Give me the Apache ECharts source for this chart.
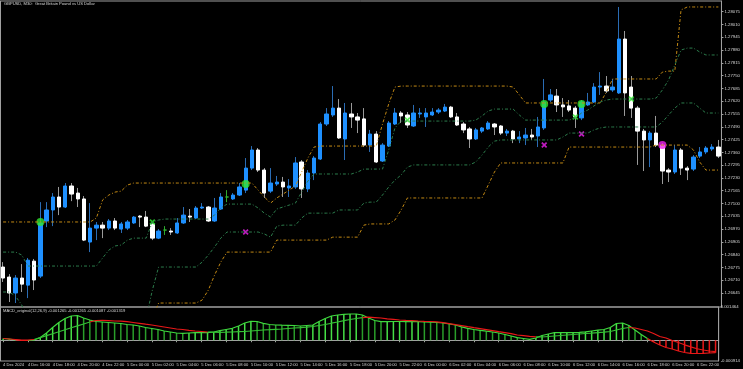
<!DOCTYPE html>
<html><head><meta charset="utf-8">
<script src="https://cdn.jsdelivr.net/npm/echarts@6/dist/echarts.min.js"></script>
<style>html,body{margin:0;padding:0;background:#000;}#c{width:743px;height:369px;}</style>
</head><body><div id="c"></div>
<script>
const chartTitle = 'GBPUSD, M30:  Great Britain Pound vs US Dollar';
const macdTitle = 'MACD_original(12,26,9) -0.001265 -0.001265 -0.001087 -0.001319';
const firstLabel = '4 Dec 2024';
const startDay = 4, startMinutes = 14 * 60, barMinutes = 30, barCount = 116;
const categories = [];
for (let i = 0; i < barCount; i++) {
  const t = startMinutes + i * barMinutes;
  const d = startDay + Math.floor(t / 1440), m = t % 1440;
  categories.push(d + ' Dec ' + String(Math.floor(m / 60)).padStart(2, '0') + ':' + String(m % 60).padStart(2, '0'));
}
const priceTicks = [1.26645,1.26710,1.26775,1.26840,1.26905,1.26970,1.27035,1.27100,1.27165,1.27230,1.27295,1.27360,1.27425,1.27490,1.27555,1.27620,1.27685,1.27750,1.27815,1.27880,1.27945,1.28010,1.28075];
const macdTicks = [-0.000914, 0.001464];

// [open, close, low, high]
const ohlc = [
[1.26777,1.26721,1.26701,1.26802],[1.26726,1.26645,1.26599,1.26741],[1.26645,1.26721,1.26594,1.26736],[1.26721,1.26690,1.26650,1.26792],
[1.26685,1.26812,1.26619,1.26823],[1.26807,1.26711,1.26660,1.26818],[1.26731,1.27001,1.26721,1.27107],[1.27011,1.27067,1.26980,1.27107],
[1.27067,1.27133,1.26985,1.27153],[1.27133,1.27082,1.27041,1.27184],[1.27082,1.27189,1.27077,1.27204],[1.27189,1.27148,1.27112,1.27204],
[1.27153,1.27123,1.27082,1.27179],[1.27123,1.26914,1.26909,1.27138],[1.26904,1.26975,1.26853,1.27102],[1.26975,1.26990,1.26914,1.27006],
[1.26990,1.26975,1.26924,1.27006],[1.26975,1.27011,1.26965,1.27021],[1.27011,1.26975,1.26965,1.27026],[1.26970,1.26996,1.26950,1.27006],
[1.26975,1.27006,1.26965,1.27016],[1.27001,1.27031,1.26996,1.27036],[1.27036,1.27031,1.26980,1.27041],[1.27031,1.26985,1.26980,1.27062],
[1.26996,1.26924,1.26914,1.27006],[1.26924,1.26960,1.26919,1.26970],[1.26965,1.26965,1.26940,1.26985],[1.26960,1.26955,1.26940,1.26975],
[1.26950,1.27001,1.26945,1.27026],[1.27001,1.27041,1.26996,1.27082],[1.27036,1.27031,1.27006,1.27072],[1.27026,1.27077,1.27021,1.27087],
[1.27077,1.27082,1.27072,1.27102],[1.27082,1.27011,1.27006,1.27087],[1.27011,1.27077,1.27006,1.27128],[1.27072,1.27133,1.27067,1.27153],
[1.27133,1.27133,1.27107,1.27168],[1.27123,1.27143,1.27118,1.27153],[1.27143,1.27184,1.27138,1.27204],[1.27168,1.27280,1.27153,1.27331],
[1.27280,1.27372,1.27270,1.27392],[1.27372,1.27270,1.27260,1.27382],[1.27270,1.27153,1.27128,1.27280],[1.27163,1.27204,1.27153,1.27280],
[1.27199,1.27209,1.27189,1.27240],[1.27209,1.27184,1.27133,1.27235],[1.27179,1.27189,1.27133,1.27224],[1.27184,1.27306,1.27174,1.27336],
[1.27311,1.27174,1.27128,1.27321],[1.27174,1.27255,1.27158,1.27270],[1.27255,1.27331,1.27219,1.27341],[1.27326,1.27504,1.27321,1.27514],
[1.27504,1.27555,1.27494,1.27585],[1.27550,1.27585,1.27540,1.27697],[1.27585,1.27433,1.27428,1.27631],[1.27428,1.27560,1.27321,1.27611],
[1.27555,1.27540,1.27484,1.27611],[1.27540,1.27524,1.27458,1.27560],[1.27530,1.27397,1.27387,1.27585],[1.27397,1.27453,1.27362,1.27474],
[1.27453,1.27311,1.27306,1.27468],[1.27316,1.27397,1.27311,1.27407],[1.27392,1.27509,1.27387,1.27519],[1.27504,1.27560,1.27499,1.27585],
[1.27560,1.27545,1.27509,1.27570],[1.27550,1.27499,1.27484,1.27565],[1.27494,1.27560,1.27489,1.27601],[1.27555,1.27560,1.27535,1.27585],
[1.27540,1.27560,1.27489,1.27585],[1.27550,1.27565,1.27545,1.27585],[1.27565,1.27575,1.27555,1.27585],[1.27570,1.27590,1.27565,1.27606],
[1.27590,1.27540,1.27535,1.27596],[1.27540,1.27499,1.27494,1.27560],[1.27504,1.27474,1.27458,1.27514],[1.27479,1.27428,1.27382,1.27489],
[1.27428,1.27474,1.27423,1.27484],[1.27468,1.27484,1.27458,1.27489],[1.27479,1.27509,1.27474,1.27519],[1.27504,1.27489,1.27448,1.27509],
[1.27494,1.27458,1.27448,1.27499],[1.27458,1.27468,1.27443,1.27479],[1.27468,1.27428,1.27407,1.27474],[1.27428,1.27438,1.27407,1.27468],
[1.27433,1.27448,1.27397,1.27484],[1.27448,1.27438,1.27423,1.27479],[1.27443,1.27489,1.27387,1.27540],[1.27484,1.27616,1.27474,1.27733],
[1.27626,1.27652,1.27616,1.27682],[1.27646,1.27601,1.27565,1.27682],[1.27601,1.27591,1.27540,1.27636],[1.27596,1.27575,1.27565,1.27626],
[1.27585,1.27540,1.27484,1.27596],[1.27535,1.27616,1.27524,1.27626],[1.27601,1.27616,1.27596,1.27662],[1.27616,1.27692,1.27611,1.27712],
[1.27692,1.27697,1.27652,1.27768],[1.27697,1.27672,1.27662,1.27748],[1.27677,1.27692,1.27667,1.27733],[1.27662,1.27936,1.27657,1.28099],
[1.27936,1.27662,1.27545,1.27977],[1.27692,1.27585,1.27535,1.27748],[1.27585,1.27468,1.27296,1.27596],[1.27468,1.27423,1.27265,1.27479],
[1.27423,1.27458,1.27285,1.27468],[1.27458,1.27397,1.27387,1.27545],[1.27397,1.27265,1.27199,1.27407],[1.27270,1.27260,1.27209,1.27280],
[1.27260,1.27372,1.27250,1.27397],[1.27372,1.27280,1.27245,1.27382],[1.27280,1.27270,1.27219,1.27290],[1.27275,1.27336,1.27265,1.27346],
[1.27341,1.27362,1.27331,1.27387],[1.27362,1.27382,1.27351,1.27392],[1.27377,1.27387,1.27367,1.27402],[1.27387,1.27341,1.27331,1.27423]
];

const upperOrange = [
1.27006,1.27006,1.27006,1.27006,1.27006,1.27006,1.27006,1.27006,1.27006,1.27006,
1.27006,1.27006,1.27006,1.27006,1.27006,1.27026,1.27118,1.27143,1.27158,1.27163,
1.27194,1.27204,1.27204,1.27204,1.27204,1.27204,1.27204,1.27204,1.27204,1.27204,
1.27204,1.27204,1.27204,1.27204,1.27204,1.27204,1.27204,1.27204,1.27204,1.27204,
1.27204,1.27168,1.27133,1.27102,1.27128,1.27148,1.27168,1.27189,1.27260,1.27331,
1.27387,1.27392,1.27392,1.27392,1.27392,1.27392,1.27392,1.27392,1.27392,1.27392,
1.27392,1.27504,1.27606,1.27692,1.27697,1.27697,1.27697,1.27697,1.27697,1.27697,
1.27697,1.27697,1.27697,1.27697,1.27697,1.27697,1.27697,1.27697,1.27697,1.27697,
1.27697,1.27697,1.27692,1.27652,1.27611,1.27611,1.27611,1.27611,1.27611,1.27611,
1.27611,1.27611,1.27611,1.27611,1.27611,1.27611,1.27611,1.27667,1.27733,1.27733,
1.27733,1.27733,1.27733,1.27733,1.27733,1.27733,1.27768,1.27773,1.27773,1.28084,
1.28099,1.28099,1.28099,1.28099,1.28099,1.28099];
const upperGreen = [
1.26853,1.26853,1.26853,1.26838,1.26782,1.26782,1.26782,1.26782,1.26782,1.26782,
1.26782,1.26782,1.26782,1.26782,1.26782,1.26782,1.26823,1.26863,1.26884,1.26889,
1.26914,1.26924,1.26924,1.26924,1.27006,1.27016,1.27021,1.27021,1.27021,1.27021,
1.27021,1.27021,1.27021,1.27021,1.27041,1.27077,1.27097,1.27097,1.27097,1.27097,
1.27097,1.27077,1.27051,1.27031,1.27072,1.27082,1.27092,1.27102,1.27158,1.27214,
1.27250,1.27250,1.27250,1.27250,1.27250,1.27250,1.27250,1.27260,1.27275,1.27275,
1.27275,1.27275,1.27372,1.27484,1.27519,1.27519,1.27519,1.27519,1.27519,1.27519,
1.27519,1.27519,1.27519,1.27519,1.27519,1.27519,1.27524,1.27545,1.27570,1.27580,
1.27580,1.27580,1.27580,1.27550,1.27524,1.27524,1.27524,1.27524,1.27524,1.27524,
1.27524,1.27524,1.27535,1.27560,1.27575,1.27596,1.27616,1.27626,1.27631,1.27631,
1.27631,1.27631,1.27631,1.27631,1.27631,1.27636,1.27677,1.27728,1.27804,1.27880,
1.27890,1.27890,1.27870,1.27855,1.27855,1.27855];
const lowerGreen = [
1.26650,1.26650,1.26629,1.26584,1.26500,1.26500,1.26500,1.26500,1.26500,1.26500,
1.26500,1.26500,1.26500,1.26500,1.26500,1.26500,1.26500,1.26500,1.26500,1.26500,
1.26500,1.26500,1.26500,1.26518,1.26660,1.26777,1.26777,1.26777,1.26777,1.26777,
1.26777,1.26777,1.26802,1.26838,1.26879,1.26924,1.26955,1.26955,1.26955,1.26955,
1.26955,1.26955,1.26945,1.26929,1.26985,1.26990,1.26990,1.26990,1.27026,1.27051,
1.27051,1.27051,1.27051,1.27051,1.27067,1.27067,1.27067,1.27067,1.27102,1.27107,
1.27107,1.27143,1.27184,1.27219,1.27245,1.27285,1.27296,1.27296,1.27296,1.27296,
1.27296,1.27296,1.27296,1.27296,1.27296,1.27296,1.27311,1.27346,1.27387,1.27417,
1.27423,1.27423,1.27423,1.27423,1.27423,1.27423,1.27423,1.27423,1.27423,1.27423,
1.27438,1.27458,1.27458,1.27458,1.27458,1.27474,1.27484,1.27489,1.27489,1.27489,
1.27489,1.27489,1.27489,1.27489,1.27489,1.27489,1.27514,1.27550,1.27585,1.27611,
1.27611,1.27611,1.27585,1.27560,1.27560,1.27560];
const lowerOrange = [
1.26450,1.26450,1.26450,1.26450,1.26450,1.26450,1.26450,1.26450,1.26450,1.26450,
1.26450,1.26450,1.26450,1.26450,1.26450,1.26450,1.26450,1.26450,1.26450,1.26450,
1.26450,1.26450,1.26450,1.26450,1.26518,1.26594,1.26594,1.26594,1.26594,1.26594,
1.26594,1.26594,1.26609,1.26660,1.26736,1.26802,1.26853,1.26853,1.26853,1.26853,
1.26853,1.26853,1.26853,1.26853,1.26914,1.26914,1.26914,1.26914,1.26914,1.26914,
1.26914,1.26914,1.26914,1.26929,1.26929,1.26929,1.26929,1.26929,1.26990,1.26996,
1.26996,1.26996,1.26996,1.27016,1.27067,1.27128,1.27128,1.27128,1.27128,1.27128,
1.27128,1.27128,1.27128,1.27128,1.27128,1.27128,1.27128,1.27128,1.27194,1.27260,
1.27306,1.27306,1.27306,1.27306,1.27306,1.27306,1.27306,1.27306,1.27306,1.27306,
1.27306,1.27387,1.27387,1.27387,1.27387,1.27387,1.27387,1.27387,1.27387,1.27387,
1.27387,1.27387,1.27387,1.27387,1.27387,1.27397,1.27397,1.27397,1.27397,1.27397,
1.27397,1.27372,1.27311,1.27270,1.27270,1.27270];

const buySignals = [[6,1.27006],[39,1.27199],[87,1.27606],[93,1.27606]];
const sellSignals = [[106,1.27397]];
const buyStops = [[24,1.27006],[65,1.27524],[92,1.27540],[101,1.27631]];
const sellStops = [[39,1.26955],[87,1.27397],[93,1.27453]];

const macdMain = [
0.000077,0.000055,0.000011,-0.000011,-0.000011,0.000011,0.000121,0.000319,0.000561,0.000781,
0.000957,0.001068,0.001090,0.000979,0.000891,0.000825,0.000803,0.000781,0.000759,0.000737,
0.000693,0.000671,0.000627,0.000561,0.000517,0.000473,0.000407,0.000363,0.000319,0.000306,
0.000319,0.000332,0.000332,0.000332,0.000363,0.000420,0.000473,0.000526,0.000627,0.000759,
0.000834,0.000825,0.000746,0.000693,0.000671,0.000662,0.000658,0.000649,0.000627,0.000649,
0.000671,0.000825,0.000957,0.001068,0.001112,0.001142,0.001156,0.001156,0.001112,0.000979,
0.000869,0.000817,0.000817,0.000825,0.000825,0.000817,0.000817,0.000817,0.000803,0.000794,
0.000781,0.000759,0.000724,0.000671,0.000592,0.000526,0.000473,0.000438,0.000398,0.000363,
0.000319,0.000253,0.000187,0.000112,0.000077,0.000041,0.000099,0.000209,0.000275,0.000332,
0.000332,0.000332,0.000332,0.000350,0.000372,0.000407,0.000442,0.000473,0.000561,0.000737,
0.000759,0.000649,0.000451,0.000253,0.000077,-0.000078,-0.000210,-0.000320,-0.000386,-0.000474,
-0.000540,-0.000575,-0.000584,-0.000575,-0.000562,-0.000549];
const macdSignal = [
0.000077,0.000055,0.000033,0.000011,0.000011,0.000033,0.000116,0.000204,0.000288,0.000372,
0.000460,0.000548,0.000632,0.000715,0.000803,0.000869,0.000874,0.000865,0.000847,0.000839,
0.000817,0.000781,0.000746,0.000706,0.000671,0.000627,0.000583,0.000539,0.000495,0.000473,
0.000438,0.000407,0.000385,0.000363,0.000354,0.000350,0.000354,0.000363,0.000376,0.000385,
0.000407,0.000429,0.000451,0.000464,0.000482,0.000495,0.000517,0.000539,0.000552,0.000574,
0.000605,0.000649,0.000693,0.000750,0.000803,0.000861,0.000913,0.000957,0.000993,0.001015,
0.000997,0.000979,0.000944,0.000918,0.000891,0.000874,0.000861,0.000847,0.000834,0.000825,
0.000812,0.000772,0.000728,0.000684,0.000645,0.000596,0.000552,0.000513,0.000469,0.000425,
0.000376,0.000332,0.000288,0.000231,0.000200,0.000169,0.000151,0.000143,0.000165,0.000187,
0.000209,0.000231,0.000253,0.000275,0.000297,0.000310,0.000332,0.000354,0.000385,0.000451,
0.000517,0.000561,0.000539,0.000473,0.000407,0.000297,0.000165,0.000099,-0.000011,-0.000100,
-0.000201,-0.000289,-0.000373,-0.000430,-0.000474,-0.000505];

// ---- derived views ----
const bodies = ohlc.map(r => [r[0], r[1], Math.min(r[0], r[1]), Math.max(r[0], r[1])]);
function splitBy(values, flags) {
  const a = values.map(() => null), b = values.map(() => null);
  for (let i = 0; i < values.length; i++) {
    if (flags[i]) { a[i] = values[i]; if (i > 0 && !flags[i - 1]) a[i - 1] = values[i - 1]; }
    else { b[i] = values[i]; if (i > 0 && flags[i - 1]) b[i - 1] = values[i - 1]; }
  }
  return [a, b];
}
const [mainPos, mainNeg] = splitBy(macdMain, macdMain.map(v => v >= 0));
const [sigBelow, sigAbove] = splitBy(macdSignal, macdSignal.map((v, i) => macdMain[i] > v));

const FONT = 'Liberation Sans';
const AX = '#a0a0a0';
const TXT = '#d6d6d6';
const BLUE = '#1e90ff';
const GREEN_MK = '#2ee62e';
const MAGENTA = '#f020f0';
const XPATH = 'path://M0,2L2,0L5,3L8,0L10,2L7,5L10,8L8,10L5,7L2,10L0,8L3,5Z';
const bandStyle = c => ({ color: c, width: 1, type: [3, 2, 1, 2] });

const chart = echarts.init(document.getElementById('c'), null, { renderer: 'canvas' });
chart.setOption({
  backgroundColor: '#000000',
  animation: false,
  grid: [
    { left: -2.1, right: 20.7, top: 1, height: 306, show: true, borderColor: AX, borderWidth: 1 },
    { left: -2.1, right: 20.7, top: 307, height: 54, show: true, borderColor: AX, borderWidth: 1 }
  ],
  xAxis: [
    { type: 'category', gridIndex: 0, data: categories, boundaryGap: true,
      axisLine: { show: false }, axisTick: { show: false }, axisLabel: { show: false }, splitLine: { show: false } },
    { type: 'category', gridIndex: 1, data: categories, boundaryGap: true,
      axisLine: { show: true, lineStyle: { color: AX } },
      axisTick: { show: true, interval: 3, alignWithLabel: true, length: 2, lineStyle: { color: AX } },
      axisLabel: { show: true, interval: 3, align: 'left', margin: 2, fontSize: 4.1, color: TXT, fontFamily: FONT,
        formatter: (v, i) => i === 0 ? firstLabel : v },
      splitLine: { show: false } }
  ],
  yAxis: [
    { type: 'value', gridIndex: 0, position: 'right', min: 1.265738, max: 1.281294, scale: true,
      axisLine: { show: true, lineStyle: { color: AX } },
      axisTick: { show: true, customValues: priceTicks, length: 2, lineStyle: { color: AX } },
      axisLabel: { show: true, customValues: priceTicks, formatter: v => v.toFixed(5), fontSize: 4.3, color: TXT, margin: 3, fontFamily: FONT },
      splitLine: { show: false } },
    { type: 'value', gridIndex: 1, position: 'right', min: macdTicks[0], max: macdTicks[1], scale: true,
      axisLine: { show: true, lineStyle: { color: AX } },
      axisTick: { show: false },
      axisLabel: { show: true, customValues: macdTicks, formatter: v => v.toFixed(6), fontSize: 4.3, color: TXT, margin: 2, fontFamily: FONT },
      splitLine: { show: false } }
  ],
  series: [
    { type: 'candlestick', name: 'wicks', xAxisIndex: 0, yAxisIndex: 0, data: ohlc, barWidth: 0.1, silent: true,
      itemStyle: { color: '#2a6cb4', color0: '#9a9a9a', borderColor: '#2a6cb4', borderColor0: '#9a9a9a', borderColorDoji: '#2fa82f', borderWidth: 1 } },
    { type: 'candlestick', name: 'bodies', xAxisIndex: 0, yAxisIndex: 0, data: bodies, barWidth: 3.8, silent: true,
      itemStyle: { color: BLUE, color0: '#ffffff', borderColor: BLUE, borderColor0: '#ffffff', borderColorDoji: '#2fb52f', borderWidth: 1 } },
    { type: 'line', name: 'upperOrange', data: upperOrange, symbol: 'none', lineStyle: bandStyle('#c48a14'), silent: true },
    { type: 'line', name: 'upperGreen', data: upperGreen, symbol: 'none', lineStyle: bandStyle('#2c7d4c'), silent: true },
    { type: 'line', name: 'lowerGreen', data: lowerGreen, symbol: 'none', lineStyle: bandStyle('#2c7d4c'), silent: true },
    { type: 'line', name: 'lowerOrange', data: lowerOrange, symbol: 'none', lineStyle: bandStyle('#c48a14'), silent: true },
    { type: 'scatter', name: 'buy', data: buySignals, symbol: 'circle', symbolSize: 8, itemStyle: { color: GREEN_MK }, silent: true },
    { type: 'scatter', name: 'sell', data: sellSignals, symbol: 'circle', symbolSize: 8, itemStyle: { color: MAGENTA }, silent: true },
    { type: 'scatter', name: 'buyStop', data: buyStops, symbol: XPATH, symbolSize: 6, itemStyle: { color: GREEN_MK }, silent: true },
    { type: 'scatter', name: 'sellStop', data: sellStops, symbol: XPATH, symbolSize: 6, itemStyle: { color: MAGENTA }, silent: true },
    { type: 'bar', name: 'hist', xAxisIndex: 1, yAxisIndex: 1, data: macdMain, barWidth: 1.5, silent: true,
      itemStyle: { color: p => {
        const i = p.dataIndex, v = macdMain[i];
        if (v < 0) return '#e81818';
        return (i === 0 || v >= macdMain[i - 1]) ? '#46e046' : '#2a9e2a';
      } } },
    { type: 'line', name: 'mainPos', xAxisIndex: 1, yAxisIndex: 1, data: mainPos, symbol: 'none', lineStyle: { color: '#3ed83e', width: 1.2 }, silent: true },
    { type: 'line', name: 'mainNeg', xAxisIndex: 1, yAxisIndex: 1, data: mainNeg, symbol: 'none', lineStyle: { color: '#e81818', width: 1.2 }, silent: true },
    { type: 'line', name: 'sigBelow', xAxisIndex: 1, yAxisIndex: 1, data: sigBelow, symbol: 'none', lineStyle: { color: '#34c034', width: 1.2 }, silent: true },
    { type: 'line', name: 'sigAbove', xAxisIndex: 1, yAxisIndex: 1, data: sigAbove, symbol: 'none', lineStyle: { color: '#e81818', width: 1.2 }, silent: true }
  ],
  graphic: [
    { type: 'text', x: 4, y: 4, style: { text: chartTitle, fill: TXT, fontSize: 4.1, fontFamily: FONT, verticalAlign: 'middle' } },
    { type: 'text', x: 3, y: 311, style: { text: macdTitle, fill: TXT, fontSize: 4.1, fontFamily: FONT, verticalAlign: 'middle' } },
    { type: 'line', shape: { x1: 0.5, y1: 1, x2: 0.5, y2: 361 }, style: { stroke: AX, lineWidth: 1 } }
  ]
});
</script>
</body></html>
